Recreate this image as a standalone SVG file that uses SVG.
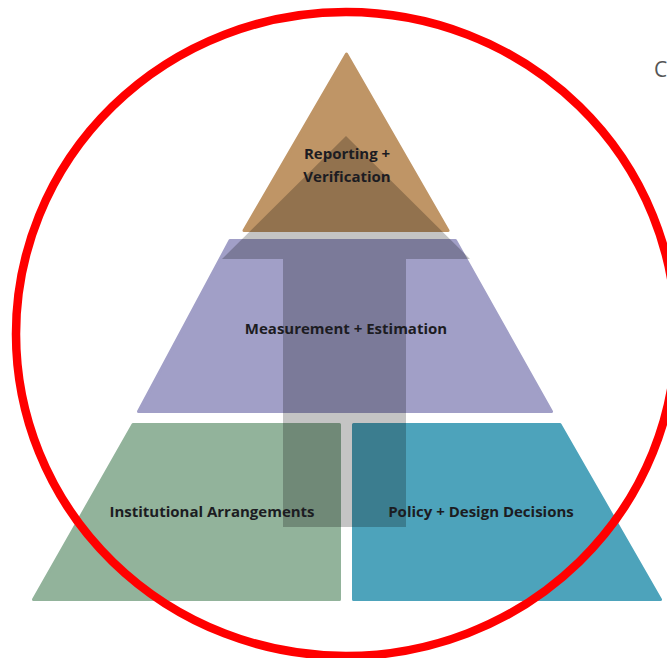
<svg xmlns="http://www.w3.org/2000/svg" width="667" height="658" viewBox="0 0 667 658">
<style>
.layer{stroke-linejoin:round;stroke-width:3}
.lbl{font-family:"Open Sans","Liberation Sans",sans-serif;font-weight:700;font-size:15px;fill:#1c1c22;text-anchor:middle}
.side{font-family:"Open Sans","Liberation Sans",sans-serif;font-size:21px;fill:#555}
</style>
<rect width="667" height="658" fill="#ffffff"/>
<g id="top-layer">
<polygon class="layer" points="346.5,54 448,230.5 244,230.5" fill="#BF9566" stroke="#BF9566"/>
</g>
<g id="middle-layer">
<polygon class="layer" points="230,240.5 455.5,240.5 551.5,411.5 138.5,411.5" fill="#A19FC7" stroke="#A19FC7"/>
</g>
<g id="bottom-left-layer">
<polygon class="layer" points="133,424.5 339.5,424.5 339.5,599.5 33.5,599.5" fill="#92B39B" stroke="#92B39B"/>
</g>
<g id="bottom-right-layer">
<polygon class="layer" points="353.5,424.5 560,424.5 660.5,599.5 353.5,599.5" fill="#4DA3BB" stroke="#4DA3BB"/>
</g>
<g id="connectors">
<path d="M346,136 L470,259 L406,259 L406,527 L283,527 L283,259 L222,259 Z" fill="#000" fill-opacity="0.23"/>
</g>
<g id="labels">
<text class="lbl" x="347" y="159">Reporting +</text>
<text class="lbl" x="347" y="182">Verification</text>
<text class="lbl" x="346" y="334">Measurement + Estimation</text>
<text class="lbl" x="212" y="517">Institutional Arrangements</text>
<text class="lbl" x="481" y="517">Policy + Design Decisions</text>
</g>
<g id="highlight">
<ellipse cx="346" cy="334" rx="330" ry="322" fill="none" stroke="#FF0000" stroke-width="8.5"/>
</g>
<text class="side" x="654" y="77">C</text>
</svg>
